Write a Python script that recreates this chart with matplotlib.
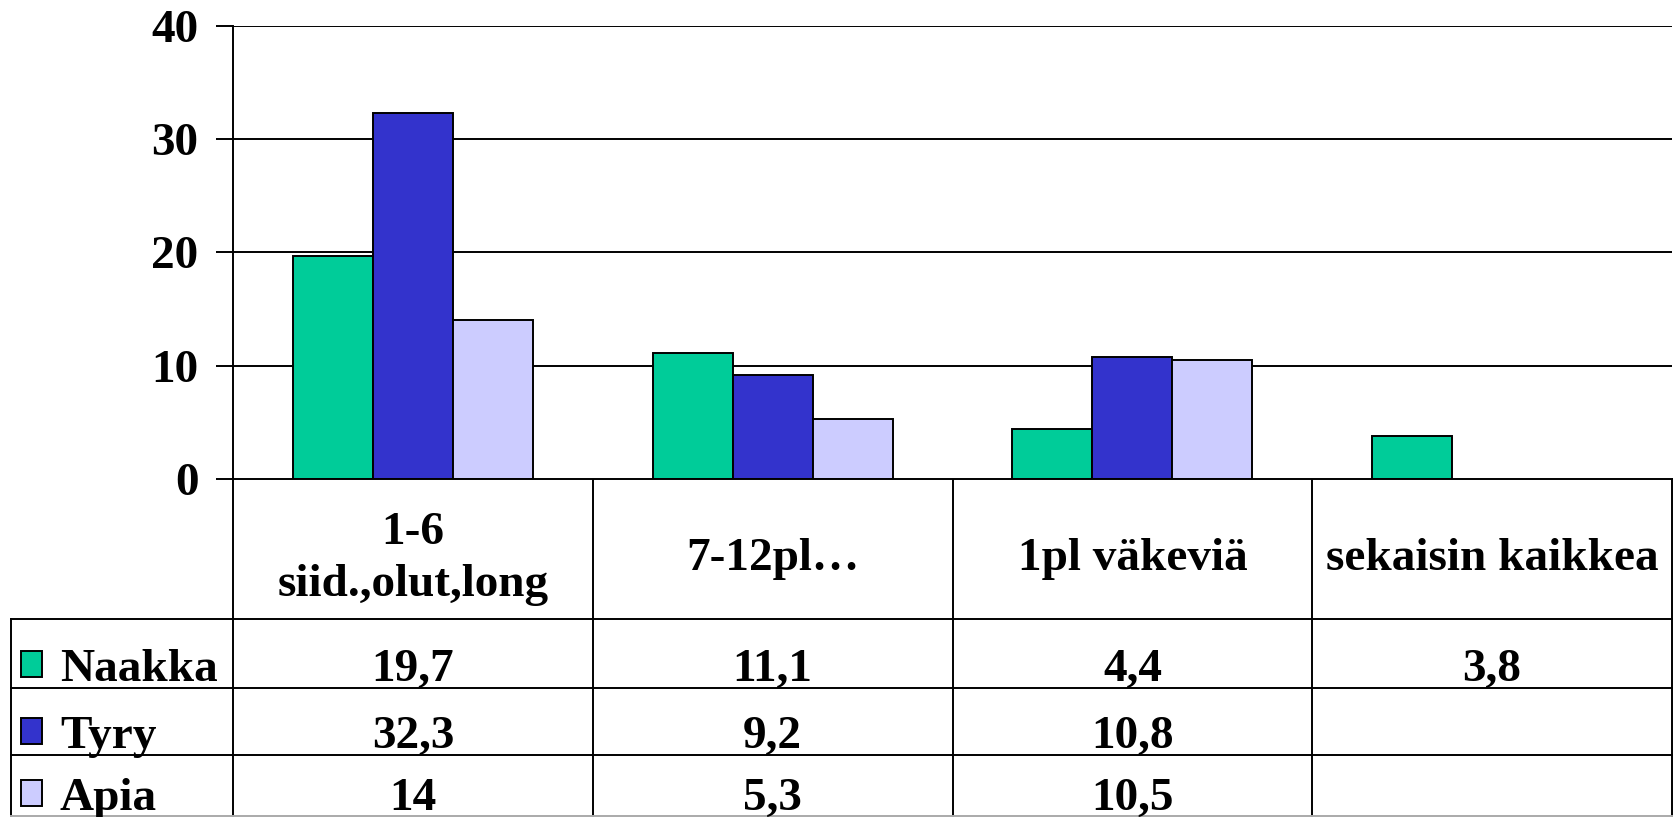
import matplotlib.pyplot as plt
import numpy as np

plt.rcParams['font.family'] = ['Liberation Serif', 'DejaVu Serif']
plt.rcParams['font.weight'] = 'bold'

# data
categories = ["1-6\nsiid.,olut,long", "7-12pl…", "1pl väkeviä", "sekaisin kaikkea"]
series = ["Naakka", "Tyry", "Apia"]
naakka = [19.7, 11.1, 4.4, 3.8]
tyry = [32.3, 9.2, 10.8, np.nan]
apia = [14, 5.3, 10.5, np.nan]
colors = ["#00CC99", "#3333CC", "#CCCCFF"]
yticks = [0, 10, 20, 30, 40]

W, H = 1678, 817
FS = 34
LW = 1.4

# layout in pixels
x_left, x_right = 233, 1672
y_top, y_zero = 25.7, 479
row_edges = [479, 619, 688, 755, 817]
leg_left = 11

fig = plt.figure(figsize=(W / 100, H / 100), dpi=100)
ax = fig.add_axes([x_left / W, 1 - y_zero / H, (x_right - x_left) / W, (y_zero - y_top) / H])

x = np.arange(len(categories))
bw = 0.2226
for i, (vals, c) in enumerate(zip([naakka, tyry, apia], colors)):
    ax.bar(x + (i - 1) * bw, vals, width=bw, color=c, edgecolor='black', linewidth=LW, zorder=3)

ax.set_xlim(-0.5, len(categories) - 0.5)
ax.set_ylim(0, 40)
ax.set_yticks(yticks)
ax.set_yticklabels([str(t) for t in yticks], fontsize=FS, fontweight='bold')
ax.tick_params(axis='y', length=12, width=LW, pad=13)
ax.set_xticks([])
for y in yticks[1:]:
    ax.axhline(y, color='black', linewidth=LW, zorder=1)
for s in ['top', 'right']:
    ax.spines[s].set_visible(False)
ax.spines['left'].set_linewidth(LW)
ax.spines['bottom'].set_linewidth(LW)
ax.spines['bottom'].set_zorder(4)

# table overlay in pixel coordinates
tab = fig.add_axes([0, 0, 1, 1], zorder=-1)
tab.set_xlim(0, W)
tab.set_ylim(H, 0)
tab.axis('off')

col_w = (x_right - x_left) / len(categories)
col_edges = [x_left + k * col_w for k in range(len(categories) + 1)]
for xe in col_edges:
    tab.plot([xe, xe], [row_edges[0], H], color='black', linewidth=LW)
tab.plot([leg_left, leg_left], [row_edges[1], H], color='black', linewidth=LW)
for ye in row_edges[1:-1]:
    tab.plot([leg_left, x_right], [ye, ye], color='black', linewidth=LW)
tab.plot([leg_left, x_right], [H - 1, H - 1], color='#aaaaaa', linewidth=LW)

# header labels
for k, lab in enumerate(categories):
    cx = (col_edges[k] + col_edges[k + 1]) / 2
    lines = lab.split("\n")
    n = len(lines)
    for j, ln in enumerate(lines):
        base = 570 + (j - (n - 1) / 2) * 51
        tab.text(cx, base, ln, ha='center', va='baseline', fontsize=FS, fontweight='bold')

# data rows
def fmt(v):
    if np.isnan(v):
        return ""
    return f"{v:g}".replace('.', ',')

for r, (name, vals, c) in enumerate(zip(series, [naakka, tyry, apia], colors)):
    base = row_edges[r + 2] - 7
    tab.add_patch(plt.Rectangle((21, base - 30), 21, 26, facecolor=c, edgecolor='black',
                                linewidth=LW))
    tab.text(60, base, name, ha='left', va='baseline', fontsize=FS, fontweight='bold')
    for k, v in enumerate(vals):
        cx = (col_edges[k] + col_edges[k + 1]) / 2
        tab.text(cx, base, fmt(v), ha='center', va='baseline', fontsize=FS, fontweight='bold')

fig.savefig('out.png', dpi=100, facecolor='white')
